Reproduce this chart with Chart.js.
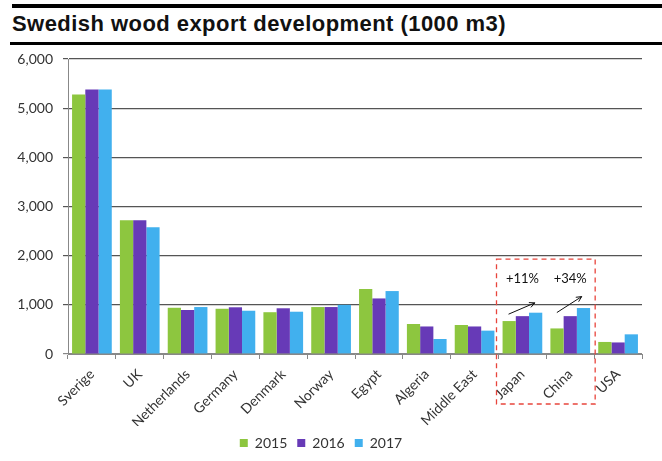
<!DOCTYPE html>
<html><head><meta charset="utf-8">
<script src="https://cdn.jsdelivr.net/npm/chart.js@4/dist/chart.umd.min.js"></script>
<style>
html,body{margin:0;padding:0;background:#fff;width:662px;height:461px;overflow:hidden;}
#topbar{position:absolute;left:12px;right:0;top:4px;height:4px;background:#000;}
#title{position:absolute;left:12px;top:11px;font:bold 22px "Liberation Sans",Arial,sans-serif;letter-spacing:0.45px;color:#111;white-space:nowrap;}
#rule{position:absolute;left:10px;right:0;top:42px;height:3px;background:#000;}
#wrap{position:absolute;left:0;top:46px;width:662px;height:415px;}
</style></head><body>
<div id="topbar"></div>
<div id="title">Swedish wood export development (1000 m3)</div>
<div id="rule"></div>
<div id="wrap"><canvas id="c" width="662" height="415"></canvas></div>
<script>
const categories = ["Sverige","UK","Netherlands","Germany","Denmark","Norway","Egypt","Algeria","Middle East","Japan","China","USA"];
const years = ["2015","2016","2017"];
const values2015 = [5280,2720,940,920,850,955,1320,610,590,670,520,245];
const values2016 = [5380,2720,895,950,930,955,1130,560,560,770,770,235];
const values2017 = [5380,2580,955,880,860,1000,1280,305,475,840,935,400];
const yTicks = [0,1000,2000,3000,4000,5000,6000];
const changeLabels = [{cat:9, text:"+11%"},{cat:10, text:"+34%"}];

const colors = ["#8DC63F","#673AB7","#41B0EE"];

const annot = {
  id:'annot',
  afterDatasetsDraw(chart){
    const {ctx, scales:{x,y}} = chart;
    const cw = x.getPixelForValue(1) - x.getPixelForValue(0);
    ctx.save();
    const left = x.getPixelForValue(9) - cw/2 - 2;
    const right = x.getPixelForValue(10) + cw/2 + 1;
    const top = y.getPixelForValue(1930);
    const bottom = y.bottom + 50;
    ctx.strokeStyle = '#E8453C';
    ctx.lineWidth = 1.3;
    ctx.setLineDash([5,4]);
    ctx.strokeRect(left, top, right-left, bottom-top);
    ctx.setLineDash([]);
    ctx.fillStyle = '#111';
    ctx.font = '13px Lato, sans-serif';
    ctx.textAlign = 'center';
    ctx.textBaseline = 'middle';
    changeLabels.forEach(l => ctx.fillText(l.text, x.getPixelForValue(l.cat), y.getPixelForValue(1525)));
    const arrows = [[9,-0.29,810,0.26,1040],[10,-0.28,843,0.24,1168]];
    ctx.strokeStyle = '#111';
    ctx.lineWidth = 1;
    arrows.forEach(a=>{
      const c = x.getPixelForValue(a[0]);
      const x1 = c + a[1]*cw, y1 = y.getPixelForValue(a[2]);
      const x2 = c + a[3]*cw, y2 = y.getPixelForValue(a[4]);
      ctx.beginPath(); ctx.moveTo(x1,y1); ctx.lineTo(x2,y2); ctx.stroke();
      const ang = Math.atan2(y2-y1, x2-x1), h = 6;
      ctx.beginPath();
      ctx.moveTo(x2 - h*Math.cos(ang-0.45), y2 - h*Math.sin(ang-0.45));
      ctx.lineTo(x2,y2);
      ctx.lineTo(x2 - h*Math.cos(ang+0.45), y2 - h*Math.sin(ang+0.45));
      ctx.stroke();
    });
    ctx.restore();
  }
};

new Chart(document.getElementById('c'), {
  type:'bar',
  data:{
    labels: categories,
    datasets:[
      {label:years[0], data:values2015, backgroundColor:colors[0]},
      {label:years[1], data:values2016, backgroundColor:colors[1]},
      {label:years[2], data:values2017, backgroundColor:colors[2]}
    ]
  },
  options:{
    responsive:false,
    animation:false,
    layout:{padding:{top:13,right:20,left:0,bottom:1}},
    datasets:{bar:{categoryPercentage:0.83, barPercentage:1.0}},
    plugins:{
      legend:{position:'bottom', labels:{boxWidth:8, boxHeight:8, padding:10, color:'#333', font:{family:'Lato', size:14}}},
      tooltip:{enabled:false}
    },
    scales:{
      x:{
        grid:{offset:true, drawOnChartArea:false, tickLength:5, color:'#888'},
        border:{color:'#888'},
        ticks:{maxRotation:45, minRotation:45, color:'#333', font:{family:'Lato', size:14}, padding:7},
        afterFit(s){ s.height = 72; s.paddingLeft = 0; s.paddingRight = 0; s.paddingTop = 0; s.paddingBottom = 0; }
      },
      y:{
        min:0, max:6000,
        afterBuildTicks(s){ s.ticks = yTicks.map(v=>({value:v})); },
        grid:{tickLength:5, color:(c)=> c.tick && c.tick.value===0 ? '#888' : '#555', lineWidth:1.2},
        border:{color:'#888'},
        ticks:{color:'#333', font:{family:'Lato', size:14}, padding:10, callback:(v)=>v.toLocaleString('en-US')},
        afterFit(s){ s.width = 68; s.paddingTop = 0; s.paddingBottom = 0; }
      }
    }
  },
  plugins:[annot]
});
</script>
</body></html>
